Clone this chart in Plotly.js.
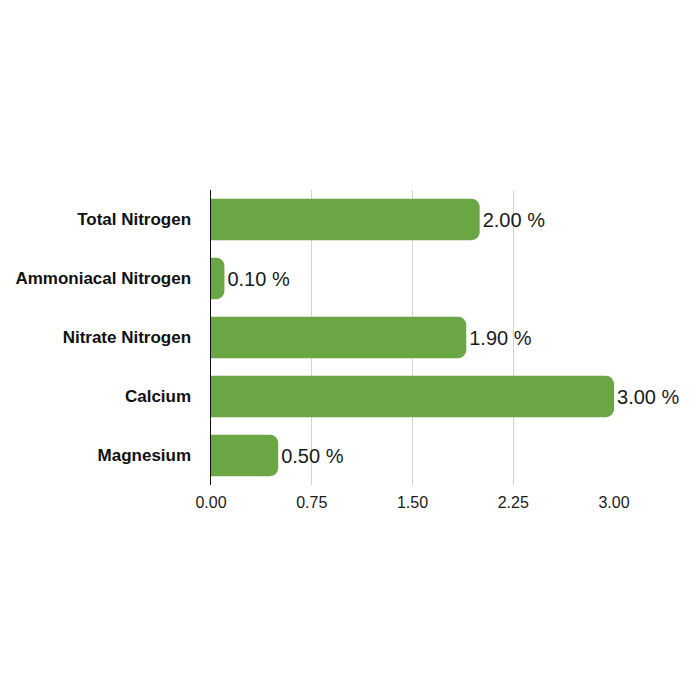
<!DOCTYPE html>
<html>
<head>
<meta charset="utf-8">
<script src="https://cdn.plot.ly/plotly-3.0.1.min.js"></script>
<style>
  html, body { margin: 0; padding: 0; background: #ffffff; }
  #chart { width: 700px; height: 700px; }
</style>
</head>
<body>
<div id="chart"></div>
<script>
// Nutrient content of the fertiliser, in percent
const nutrients = ["Total Nitrogen", "Ammoniacal Nitrogen", "Nitrate Nitrogen", "Calcium", "Magnesium"];
const percentages = [2.00, 0.10, 1.90, 3.00, 0.50];
const axisTicks = [0, 0.75, 1.5, 2.25, 3.0];

const labels = percentages.map(v => v.toFixed(2) + " %");

const trace = {
  type: "bar",
  orientation: "h",
  x: percentages,
  y: nutrients,
  text: labels,
  textposition: "outside",
  cliponaxis: false,
  textfont: { family: "Liberation Sans, Arial, sans-serif", size: 20, color: "#1a1a1a" },
  marker: { color: "#6aa744", cornerradius: 8 },
  hoverinfo: "none"
};

const layout = {
  width: 700,
  height: 700,
  margin: { l: 211, r: 86, t: 190, b: 215 },
  paper_bgcolor: "#ffffff",
  plot_bgcolor: "#ffffff",
  bargap: 0.3,
  showlegend: false,
  xaxis: {
    range: [0, 3],
    tickvals: axisTicks,
    tickformat: ".2f",
    showgrid: true,
    gridcolor: "#d4d4d4",
    gridwidth: 1,
    zeroline: false,
    showline: false,
    ticks: "",
    ticklabelstandoff: 6,
    tickfont: { family: "Liberation Sans, Arial, sans-serif", size: 16, color: "#1a1a1a" }
  },
  yaxis: {
    autorange: "reversed",
    showgrid: false,
    showline: true,
    linecolor: "#111111",
    linewidth: 1.5,
    ticks: "",
    ticklabelstandoff: 15,
    tickfont: { family: "Liberation Sans, Arial, sans-serif", size: 17, color: "#111111", weight: "bold" }
  }
};

Plotly.newPlot("chart", [trace], layout, { displayModeBar: false, staticPlot: true });
</script>
</body>
</html>
